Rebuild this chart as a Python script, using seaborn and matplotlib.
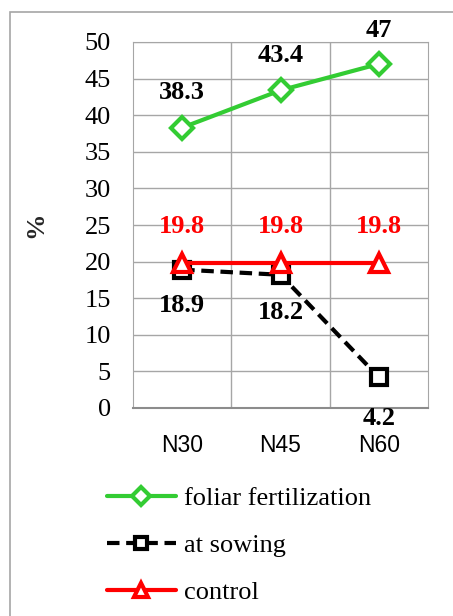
import matplotlib
matplotlib.use('Agg')
import matplotlib.pyplot as plt
import seaborn as sns
import pandas as pd
from matplotlib.patches import Rectangle

doses = ['N30', 'N45', 'N60']
foliar = [38.3, 43.4, 47]
sowing = [18.9, 18.2, 4.2]
control = [19.8, 19.8, 19.8]
names = ['foliar fertilization', 'at sowing', 'control']

df = pd.DataFrame({
    'dose': doses * 3,
    'x': [0, 1, 2] * 3,
    'value': foliar + sowing + control,
    'series': [n for n in names for _ in doses],
})

sns.set_style('white')
plt.rcParams['font.family'] = ['Liberation Serif', 'DejaVu Serif']
plt.rcParams['text.color'] = 'black'
plt.rcParams['xtick.color'] = 'black'
plt.rcParams['ytick.color'] = 'black'

fig = plt.figure(figsize=(4.53, 6.16), dpi=100)
ax = fig.add_axes([133 / 453, 1 - 408 / 616, 295 / 453, 366 / 616])
fig.patches.append(Rectangle((10 / 453, -0.1), 1.1, 1 - 12 / 616 + 0.1,
                             transform=fig.transFigure, fill=False,
                             edgecolor='#a6a6a6', lw=1.2))

colors = {'foliar fertilization': '#33cc33', 'at sowing': 'black', 'control': '#ff0000'}
markers = {'foliar fertilization': 'D', 'at sowing': 's', 'control': '^'}
msize = {'foliar fertilization': 11, 'at sowing': 11, 'control': 13}

for n in names:
    d = df[df.series == n]
    extra = {'dashes': (3, 1.6)} if n == 'at sowing' else {}
    sns.lineplot(data=d, x='x', y='value', ax=ax, color=colors[n], lw=3,
                 marker=markers[n], markersize=msize[n], markerfacecolor='white',
                 markeredgecolor=colors[n], markeredgewidth=3,
                 label=n, zorder=3 if n != 'at sowing' else 2, **extra)

ax.set_xlim(-0.5, 2.5)
ax.set_ylim(0, 50)
ax.set_yticks(range(0, 51, 5))
ax.set_xticks([0.5, 1.5], minor=False)
ax.set_xticklabels([])
ax.set_xticks([0, 1, 2], minor=True)
ax.set_xticklabels(doses, minor=True, fontsize=16.5, family=['Liberation Sans', 'DejaVu Sans'])
ax.tick_params(axis='x', which='both', length=0, pad=19)
ax.tick_params(axis='y', labelsize=19, length=0, pad=16)
ax.grid(True, color='#a6a6a6', lw=1)
ax.set_axisbelow(True)
for s in ax.spines.values():
    s.set_color('#a6a6a6')
ax.spines['bottom'].set_color('#8c8c8c')
ax.spines['bottom'].set_linewidth(1.5)
ax.set_xlabel('')
ax.set_ylabel('%', fontsize=19, fontweight='bold')
ax.yaxis.set_label_coords(-0.29, 0.5)

lab = dict(fontsize=19, fontweight='bold', ha='center', va='center')
for i, v in enumerate(foliar):
    ax.annotate(f'{v:g}', (i, v), xytext=(0, [25, 25, 24][i]), textcoords='offset points',
                color='black', **lab)
for i, v in enumerate(control):
    ax.annotate(f'{v:g}', (i, v), xytext=(0, 26), textcoords='offset points',
                color='#ff0000', **lab)
for i, v in enumerate(sowing):
    ax.annotate(f'{v:g}', (i, v), xytext=(0, [-26, -27, -30][i]), textcoords='offset points',
                color='black', **lab)

ax.legend(loc='upper left', bbox_to_anchor=(107 / 453, 1 - 487 / 616),
          bbox_transform=fig.transFigure, frameon=False, fontsize=19,
          handlelength=2.6, labelspacing=0.88, handletextpad=0.3,
          borderaxespad=0, borderpad=0, markerscale=0.8)

fig.savefig('out.png', dpi=100)
